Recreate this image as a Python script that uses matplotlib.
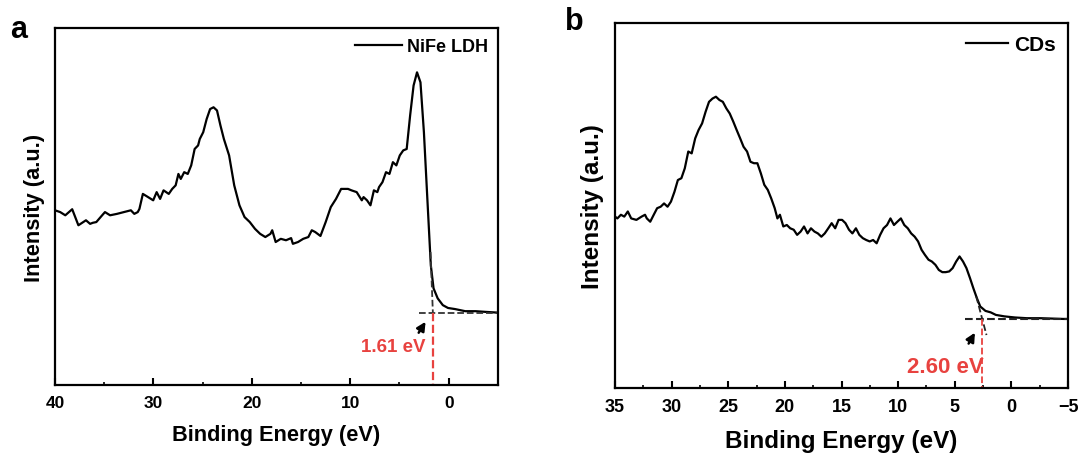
import numpy as np
import matplotlib
matplotlib.use("Agg")
import matplotlib.pyplot as plt
from matplotlib.ticker import MultipleLocator

plt.rcParams['font.family'] = ['Liberation Sans', 'DejaVu Sans']
plt.rcParams['font.weight'] = 'bold'

# NiFe LDH valence-band spectrum
e_ldh = [40.0, 39.47, 38.95, 38.25, 37.62, 36.85, 36.43, 36.15, 35.80, 35.27,
         34.92, 34.40, 33.70, 33.00, 32.29, 31.94, 31.59, 31.42, 31.07, 30.54,
         30.02, 29.67, 29.32, 28.97, 28.44, 28.09, 27.74, 27.46, 27.22, 26.87,
         26.51, 26.16, 25.81, 25.46, 25.29, 24.94, 24.59, 24.24, 23.89, 23.54,
         23.19, 22.84, 22.31, 21.79, 21.26, 20.74, 20.21, 19.68, 19.16, 18.63,
         18.11, 17.93, 17.58, 17.06, 16.53, 16.01, 15.83, 15.31, 14.78, 14.26,
         13.91, 13.56, 13.03, 12.50, 11.98, 11.45, 10.93, 10.23, 9.88, 9.35,
         8.83, 8.65, 8.30, 7.95, 7.60, 7.25, 7.08, 6.73, 6.37, 6.02,
         5.67, 5.32, 4.97, 4.62, 4.27, 3.92, 3.57, 3.22, 2.87, 2.52,
         2.17, 1.82, 1.54, 1.12, 0.60, 0.07, -0.63, -1.68, -2.73, -3.78, -5.0]
i_ldh = [49.0, 48.5, 47.6, 49.3, 44.8, 46.2, 45.2, 45.5, 45.7, 47.4,
         48.5, 47.6, 48.0, 48.5, 49.0, 48.0, 48.5, 49.4, 53.6, 52.7,
         51.8, 54.1, 52.2, 54.6, 53.6, 55.0, 56.0, 59.2, 57.8, 59.7,
         59.2, 61.6, 66.2, 67.2, 69.0, 70.9, 74.6, 77.4, 77.9, 77.0,
         72.8, 69.0, 64.4, 56.0, 50.4, 47.1, 45.7, 43.8, 42.4, 41.5,
         42.4, 43.4, 40.1, 41.0, 40.6, 41.2, 39.6, 40.1, 41.0, 41.5,
         43.4, 42.9, 41.8, 45.7, 49.9, 52.2, 55.0, 55.0, 54.6, 54.1,
         51.8, 52.7, 51.8, 50.4, 54.6, 54.1, 55.5, 56.9, 59.7, 59.2,
         62.5, 61.6, 64.4, 65.8, 66.2, 75.6, 84.0, 87.7, 84.9, 70.9,
         52.2, 33.6, 27.1, 24.3, 22.4, 21.6, 21.3, 20.7, 20.7, 20.5, 20.3]

# CDs valence-band spectrum
e_cds = [35.00, 34.79, 34.48, 34.18, 33.87, 33.57, 33.11, 32.65, 32.35, 32.19,
         31.89, 31.58, 31.28, 30.97, 30.67, 30.36, 30.06, 29.75, 29.45, 29.14,
         28.84, 28.53, 28.23, 27.92, 27.62, 27.31, 27.00, 26.70, 26.39, 26.09,
         25.78, 25.48, 25.17, 24.87, 24.56, 24.26, 23.95, 23.65, 23.34, 23.04,
         22.73, 22.43, 22.12, 21.82, 21.51, 21.21, 20.90, 20.66, 20.44, 20.14,
         19.83, 19.53, 19.22, 18.92, 18.61, 18.31, 18.00, 17.70, 17.39, 17.09,
         16.78, 16.48, 16.17, 15.87, 15.56, 15.26, 14.95, 14.65, 14.34, 14.04,
         13.73, 13.43, 13.12, 12.82, 12.51, 12.21, 11.90, 11.59, 11.29, 10.98,
         10.68, 10.37, 10.07, 9.76, 9.46, 9.15, 8.85, 8.54, 8.24, 7.93,
         7.63, 7.32, 7.02, 6.71, 6.41, 6.10, 5.80, 5.49, 5.19, 4.88,
         4.58, 4.27, 3.97, 3.66, 3.36, 3.05, 2.75, 2.29, 1.83, 1.37,
         0.61, -0.31, -1.37, -2.60, -4.58, -5.0]
i_cds = [46.9, 46.4, 47.4, 46.9, 48.3, 46.4, 46.0, 46.9, 47.4, 46.4,
         45.5, 47.4, 49.2, 49.6, 50.5, 49.6, 51.0, 53.7, 56.9, 57.4,
         60.1, 64.7, 64.2, 68.3, 70.6, 72.4, 75.6, 78.3, 79.2, 79.7,
         78.8, 78.3, 76.5, 75.1, 72.9, 70.6, 68.3, 66.0, 64.7, 61.9,
         61.5, 61.5, 58.7, 55.6, 54.2, 51.9, 49.2, 46.4, 47.4, 44.2,
         44.6, 43.7, 43.3, 41.9, 42.8, 44.2, 42.3, 43.7, 42.8, 42.3,
         41.4, 42.3, 43.7, 45.1, 43.7, 46.0, 46.0, 45.1, 43.3, 42.3,
         43.7, 41.9, 41.0, 40.5, 40.1, 40.5, 39.6, 41.9, 43.7, 44.6,
         46.4, 44.6, 45.5, 46.4, 44.6, 43.7, 42.3, 41.4, 40.1, 37.8,
         36.4, 35.1, 34.6, 33.7, 32.3, 31.7, 31.7, 31.9, 32.8, 34.6,
         36.0, 34.6, 32.8, 30.1, 27.3, 24.6, 22.3, 21.1, 20.7, 20.0,
         19.6, 19.3, 19.1, 19.1, 18.9, 18.9]

# onset annotations
gap_ldh = 1.61
base_ldh = 20.3
tan_ldh = (1.85, 37.3)
gap_cds = 2.60
base_cds = 18.9
tan_cds = ((3.1, 25.0), (2.2, 14.5))

fig = plt.figure(figsize=(10.82, 4.6), dpi=100)
ax1 = fig.add_axes([0.0508, 0.1609, 0.4094, 0.775])
ax2 = fig.add_axes([0.5684, 0.1543, 0.4187, 0.7946])


def style(ax, xmax, xmin, major, minor, tsize, lsize, xpad, ypad):
    ax.set_xlim(xmax, xmin)
    ax.set_ylim(0, 100)
    ax.xaxis.set_major_locator(MultipleLocator(major))
    ax.xaxis.set_minor_locator(MultipleLocator(minor))
    ax.tick_params(axis='x', which='major', direction='in', length=5, width=1.5,
                   labelsize=tsize, pad=7, top=False)
    ax.tick_params(axis='x', which='minor', direction='in', length=2.5, width=1.2, top=False)
    ax.tick_params(axis='y', left=False, right=False, labelleft=False)
    for s in ax.spines.values():
        s.set_linewidth(1.6)
    for lab in ax.get_xticklabels():
        lab.set_fontweight('bold')
    ax.set_xlabel('Binding Energy (eV)', fontsize=lsize, fontweight='bold', labelpad=xpad)
    ax.set_ylabel('Intensity (a.u.)', fontsize=lsize, fontweight='bold', labelpad=ypad)


# panel a
style(ax1, 40, -5, 10, 5, 12.5, 15.7, 10, 7)
ax1.plot(e_ldh, i_ldh, color='black', lw=1.6, label='NiFe LDH')
ax1.plot([3.05, -5], [base_ldh, base_ldh], ls='--', color='#333333', lw=1.3)
ax1.plot([tan_ldh[0], gap_ldh], [tan_ldh[1], base_ldh], ls='--', color='#333333', lw=1.3)
ax1.plot([gap_ldh, gap_ldh], [base_ldh, 0], ls='--', color='#e8423f', lw=1.6)
ax1.text(2.35, 10.7, '%.2f eV' % gap_ldh, color='#e8423f', fontsize=13.5,
         fontweight='bold', ha='right', va='center')
ax1.annotate('', xy=(2.2, 18.4), xytext=(3.2, 14.0),
             arrowprops=dict(arrowstyle='-|>', color='black', lw=1.8, mutation_scale=13))
ax1.legend(loc='upper right', frameon=False, handlelength=2.6,
           handletextpad=0.3, borderaxespad=0.15, prop={'weight': 'bold', 'size': 13})

# panel b
style(ax2, 35, -5, 5, 2.5, 13, 17.5, 10, 8)
ax2.plot(e_cds, i_cds, color='black', lw=1.6, label='CDs')
ax2.plot([4.06, -5], [base_cds, base_cds], ls='--', color='#222222', lw=1.5)
ax2.plot([tan_cds[0][0], tan_cds[1][0]], [tan_cds[0][1], tan_cds[1][1]],
         ls='--', color='#222222', lw=1.3)
ax2.plot([gap_cds, gap_cds], [base_cds, 0], ls='--', color='#e8423f', lw=1.3)
ax2.text(2.45, 5.9, '%.2f eV' % gap_cds, color='#e8423f', fontsize=16,
         fontweight='bold', ha='right', va='center')
ax2.annotate('', xy=(3.1, 15.8), xytext=(3.9, 11.5),
             arrowprops=dict(arrowstyle='-|>', color='black', lw=1.8, mutation_scale=13))
ax2.legend(loc='upper right', frameon=False, handlelength=2.0,
           handletextpad=0.3, borderaxespad=0.2, prop={'weight': 'bold', 'size': 15})

fig.text(0.017, 0.935, 'a', fontsize=22, fontweight='bold', ha='center', va='center')
fig.text(0.531, 0.953, 'b', fontsize=22, fontweight='bold', ha='center', va='center')

fig.savefig('out.png', dpi=100)
